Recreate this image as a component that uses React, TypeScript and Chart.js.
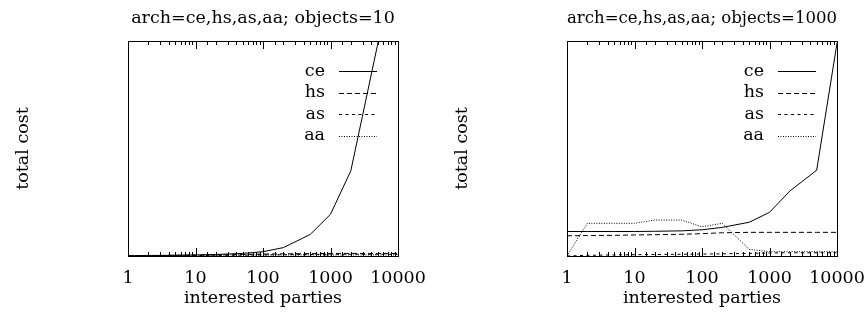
import React, { useEffect, useRef } from 'react';
import { Chart, registerables } from 'chart.js';

Chart.register(...registerables);

// ---- data ----
const parties = [1, 2, 5, 10, 20, 50, 100, 200, 500, 1000, 2000, 5000, 10000];
const seriesNames = ['ce', 'hs', 'as', 'aa'];
const xTickLabels = ['1', '10', '100', '1000', '10000'];
const chartTitles = ['arch=ce,hs,as,aa; objects=10', 'arch=ce,hs,as,aa; objects=1000'];
const xAxisTitle = 'interested parties';
const yAxisTitle = 'total cost';

// objects = 10
const ce10 = [0.1, 0.15, 0.3, 0.5, 0.7, 1.2, 2.0, 3.9, 10.0, 19.4, 39.6, 98.5, 197];
const hs10 = [0.2, 0.2, 0.3, 0.4, 0.5, 0.7, 0.9, 1.0, 1.1, 1.2, 1.2, 1.2, 1.2];
const as10 = [0.1, 0.1, 0.2, 0.2, 0.3, 0.4, 0.5, 0.6, 0.7, 0.8, 0.8, 0.8, 0.8];
const aa10 = [0, 0.3, 0.4, 0.4, 0.5, 0.5, 0.5, 0.5, 0.5, 0.5, 0.5, 0.5, 0.5];

// objects = 1000
const ce1000 = [11.4, 11.4, 11.4, 11.4, 11.5, 11.7, 12.2, 13.3, 15.7, 20.3, 30.2, 39.9, 99];
const hs1000 = [9.4, 9.5, 9.6, 9.8, 9.9, 10.1, 10.4, 10.8, 11.0, 11.0, 11.0, 11.0, 11.0];
const as1000 = [0, 0.3, 0.5, 0.6, 0.7, 0.8, 0.9, 1.0, 1.2, 1.4, 1.5, 1.5, 1.5];
const aa1000 = [0, 15.2, 15.2, 15.2, 16.7, 16.7, 13.6, 15.2, 3.1, 2.0, 2.0, 2.0, 2.0];

const yMin = 0;
const yMax = 100;
const xMin = 1;
const xMax = 10000;

// ---- styles ----
const FONT_FAMILY = "'DejaVu Serif', serif";
const FONT_SIZE = 17.5;
const DASHES: number[][] = [[], [5, 3], [3, 3.5], [1, 1.5]];

const isDecade = (v: number) => {
  const l = Math.log10(v);
  return Math.abs(l - Math.round(l)) < 1e-9;
};

const framePlugin = {
  id: 'gnuFrame',
  afterDatasetsDraw(chart: any) {
    const { ctx, chartArea } = chart;
    const { left, right, top, bottom } = chartArea;
    const sx = chart.scales.x;
    ctx.save();
    ctx.strokeStyle = '#000';
    ctx.lineWidth = 1;
    ctx.setLineDash([]);
    // ticks
    sx.ticks.forEach((t: any) => {
      const v = t.value;
      if (v < sx.min || v > sx.max) return;
      const px = Math.round(sx.getPixelForValue(v)) + 0.5;
      const len = isDecade(v) ? 8 : 4;
      ctx.beginPath();
      ctx.moveTo(px, bottom);
      ctx.lineTo(px, bottom - len);
      ctx.moveTo(px, top);
      ctx.lineTo(px, top + len);
      ctx.stroke();
    });
    // frame
    ctx.strokeRect(Math.round(left) + 0.5, Math.round(top) + 0.5, Math.round(right - left), Math.round(bottom - top));
    // legend
    ctx.font = `${FONT_SIZE}px ${FONT_FAMILY}`;
    ctx.fillStyle = '#000';
    ctx.textAlign = 'right';
    ctx.textBaseline = 'middle';
    chart.data.datasets.forEach((ds: any, i: number) => {
      const y = top + 30 + i * 21.5;
      ctx.fillText(ds.label, right - 73, y);
      ctx.setLineDash(DASHES[i]);
      ctx.beginPath();
      ctx.moveTo(right - 59, Math.round(y) + 0.5);
      ctx.lineTo(right - 21, Math.round(y) + 0.5);
      ctx.stroke();
    });
    ctx.restore();
  },
};

function makeConfig(title: string, series: number[][], yWidth: number, yTitlePad: number, padRight: number): any {
  const font = { family: FONT_FAMILY, size: FONT_SIZE };
  return {
    type: 'line',
    data: {
      labels: parties,
      datasets: series.map((vals, i) => ({
        label: seriesNames[i],
        data: parties.map((x, j) => ({ x, y: vals[j] })),
        borderColor: '#000',
        borderWidth: 1,
        borderDash: DASHES[i],
        pointRadius: 0,
        fill: false,
        tension: 0,
      })),
    },
    options: {
      responsive: false,
      animation: false,
      devicePixelRatio: 1,
      layout: { padding: { left: 0, top: 0, bottom: 0, right: padRight } },
      plugins: { legend: { display: false }, tooltip: { enabled: false }, title: { display: false } },
      scales: {
        x: {
          type: 'logarithmic',
          position: 'bottom',
          min: xMin,
          max: xMax,
          grid: { display: false, drawTicks: true, tickLength: 13 },
          border: { display: false },
          ticks: {
            autoSkip: false,
            maxRotation: 0,
            padding: -1.5,
            color: '#000',
            font,
            callback: (v: any) => (xTickLabels.includes(String(v)) ? String(v) : ''),
          },
          title: {
            display: true,
            text: xAxisTitle,
            color: '#000',
            font,
            padding: { top: 0, bottom: 3.2 },
          },
          afterFit: (s: any) => { s.height = 56; },
        },
        x2: {
          type: 'logarithmic',
          position: 'top',
          min: xMin,
          max: xMax,
          grid: { display: false, drawTicks: false },
          border: { display: false },
          ticks: { display: false },
          title: {
            display: true,
            text: title,
            color: '#000',
            font,
            padding: { top: 7.5, bottom: 10 },
          },
          afterFit: (s: any) => { s.height = 41; },
        },
        y: {
          type: 'linear',
          min: yMin,
          max: yMax,
          grid: { display: false, drawTicks: false },
          border: { display: false },
          ticks: { display: false },
          title: {
            display: true,
            text: yAxisTitle,
            color: '#000',
            font,
            padding: { top: yTitlePad, bottom: 0 },
          },
          afterFit: (s: any) => { s.width = yWidth; },
        },
      },
    },
    plugins: [framePlugin],
  };
}

function Plot(props: { title: string; series: number[][]; yWidth: number; yTitlePad: number; padRight: number }) {
  const ref = useRef<HTMLCanvasElement | null>(null);
  useEffect(() => {
    if (!ref.current) return;
    const chart = new Chart(ref.current, makeConfig(props.title, props.series, props.yWidth, props.yTitlePad, props.padRight));
    return () => chart.destroy();
  }, []);
  return <canvas ref={ref} width={432} height={312} style={{ display: 'block', width: 432, height: 312 }} />;
}

export default function App() {
  return (
    <div style={{ position: 'absolute', left: 0, top: 0, width: 864, height: 312, display: 'flex', background: '#fff' }}>
      <Plot title={chartTitles[0]} series={[ce10, hs10, as10, aa10]} yWidth={128} yTitlePad={12.8} padRight={34} />
      <Plot title={chartTitles[1]} series={[ce1000, hs1000, as1000, aa1000]} yWidth={135} yTitlePad={19.5} padRight={27} />
    </div>
  );
}
